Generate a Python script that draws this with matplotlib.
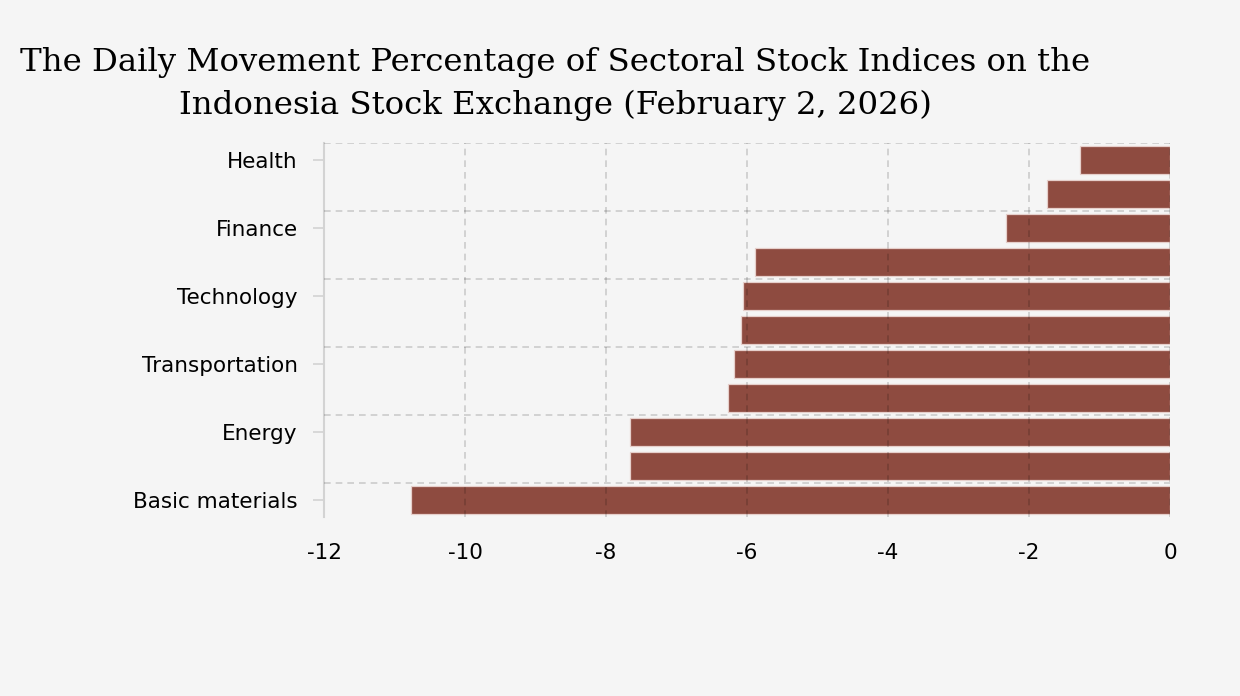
import matplotlib.pyplot as plt

# sectors from bottom to top, only every other one gets a tick label
sectors = ['Basic materials', 'Industrials', 'Energy', 'Consumer cyclicals',
           'Transportation', 'Infrastructure', 'Technology', 'Property',
           'Finance', 'Consumer non-cyclicals', 'Health']
changes = [-10.76, -7.66, -7.66, -6.27, -6.19, -6.08, -6.05, -5.88,
           -2.33, -1.74, -1.28]
labeled = ['Basic materials', 'Energy', 'Transportation', 'Technology',
           'Finance', 'Health']
x_ticks = [-12, -10, -8, -6, -4, -2, 0]

bg = '#f5f5f5'
bar_color = '#8e4b40'

fig = plt.figure(figsize=(12.4, 6.96), dpi=100, facecolor=bg)
ax = fig.add_axes([0.2613, 0.2572, 0.6822, 0.5373], facecolor=bg)

pos = list(range(len(sectors)))
ax.barh(pos, changes, height=0.84, color=bar_color,
        edgecolor='#e6cfcb', linewidth=0.9, zorder=2)

ax.set_xlim(-12, 0)
ax.set_ylim(-0.5, len(sectors) - 0.5)

# grid sits on top of the bars, semi transparent
for x in x_ticks[1:]:
    ax.axvline(x, color='black', alpha=0.17, linestyle=(0, (4, 3)),
               linewidth=1.2, zorder=3)
for s in labeled:
    ax.axhline(sectors.index(s) + 0.5, color='black', alpha=0.17,
               linestyle=(0, (4, 3)), linewidth=1.2, zorder=3)

ax.set_yticks([sectors.index(s) for s in labeled])
ax.set_yticklabels(labeled)
ax.set_xticks(x_ticks)
ax.set_xticklabels([str(v) for v in x_ticks])

ax.tick_params(axis='y', length=8, width=1.2, color='#d3d3d3', pad=11,
               labelsize=15.5, labelcolor='black')
ax.tick_params(axis='x', length=0, pad=19, labelsize=15.5,
               labelcolor='black')

for side in ['top', 'right', 'bottom']:
    ax.spines[side].set_visible(False)
ax.spines['left'].set_color('#d3d3d3')
ax.spines['left'].set_linewidth(1.5)

fig.text(0.448, 0.879,
         'The Daily Movement Percentage of Sectoral Stock Indices on the\n'
         'Indonesia Stock Exchange (February 2, 2026)',
         ha='center', va='center', ma='center', fontsize=23.3,
         family='DejaVu Serif', linespacing=1.5)

fig.savefig('out.png', dpi=100, facecolor=bg)
